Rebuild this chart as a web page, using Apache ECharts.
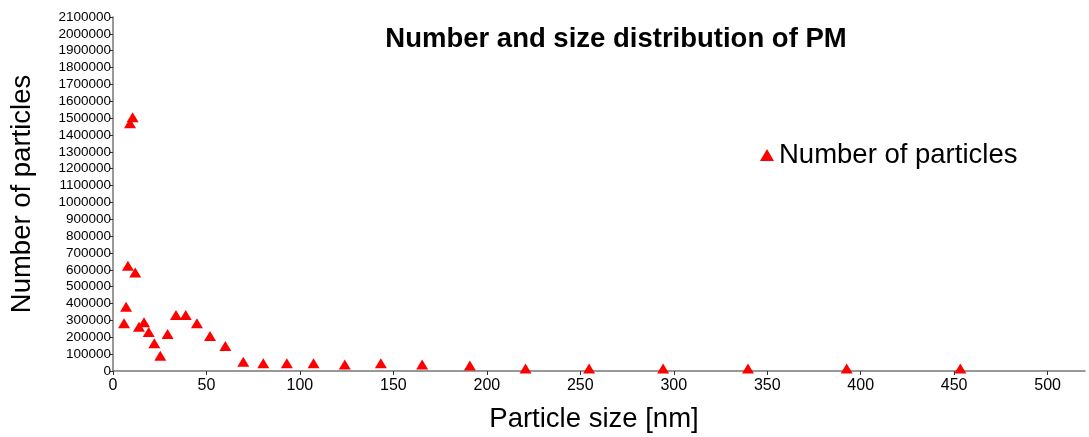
<!DOCTYPE html>
<html>
<head>
<meta charset="utf-8">
<script src="https://cdn.jsdelivr.net/npm/echarts@6/dist/echarts.min.js"></script>
<style>
  html, body { margin: 0; padding: 0; background: #fff; }
  #chart { width: 1089px; height: 437px; }
</style>
</head>
<body>
<div id="chart"></div>
<script>
// particle size [nm] and number of particles
const sizes = [5.9, 7, 8, 9.1, 10.5, 11.9, 13.9, 16.6, 19.1, 22.1, 25.3, 29.2, 33.7, 38.9, 44.9,
  51.9, 60.1, 69.7, 80.4, 93, 107.3, 124, 143.3, 165.4, 190.9, 220.7, 254.7, 294.3, 339.7, 392.5, 453.3];
const counts = [283000, 381000, 625000, 1470000, 1505000, 585000, 263000, 289000, 231000, 164000, 91000,
  219000, 332000, 332000, 283000, 208000, 148000, 55000, 46000, 46000, 46000, 38000, 46000, 38000, 32000,
  15000, 15000, 15000, 15000, 15000, 15000];

const xTicks = [0, 50, 100, 150, 200, 250, 300, 350, 400, 450, 500];

const font = 'Liberation Sans, Arial, sans-serif';

const myChart = echarts.init(document.getElementById('chart'));
const option = {
  animation: false,
  title: {
    text: 'Number and size distribution of PM',
    left: 611,
    top: 20,
    textAlign: 'center',
    textStyle: { fontFamily: font, fontSize: 27.5, fontWeight: 'bold', color: '#000' }
  },
  legend: {
    left: 755,
    top: 136,
    icon: 'triangle',
    itemWidth: 14,
    itemHeight: 12,
    textStyle: { fontFamily: font, fontSize: 27.5, color: '#000' },
    data: ['Number of particles']
  },
  grid: { left: 113, right: 4, top: 17, bottom: 66, outerBoundsMode: 'none', containLabel: false },
  xAxis: {
    type: 'value',
    min: 0,
    max: 520,
    name: 'Particle size [nm]',
    nameLocation: 'center',
    nameGap: 34,
    nameTextStyle: { fontFamily: font, fontSize: 27.5, color: '#000', padding: [0, 10, 0, 0] },
    splitLine: { show: false },
    axisLine: { lineStyle: { color: '#777', width: 1.5 } },
    axisTick: { customValues: xTicks, length: 4, lineStyle: { color: '#333' } },
    axisLabel: { customValues: xTicks, margin: 7, fontFamily: font, fontSize: 16, color: '#000' }
  },
  yAxis: {
    type: 'value',
    min: 0,
    max: 2100000,
    interval: 100000,
    name: 'Number of particles',
    nameLocation: 'center',
    nameGap: 77,
    nameTextStyle: { fontFamily: font, fontSize: 27.5, color: '#000' },
    splitLine: { show: false },
    axisLine: { show: true, lineStyle: { color: '#777', width: 1.5 } },
    axisTick: { show: true, length: 3, lineStyle: { color: '#333' } },
    axisLabel: { margin: 2, fontFamily: font, fontSize: 13.5, color: '#000', formatter: v => String(v) }
  },
  series: [{
    name: 'Number of particles',
    type: 'scatter',
    symbol: 'triangle',
    symbolSize: [12, 10],
    itemStyle: { color: '#ff0000', opacity: 1 },
    data: sizes.map((s, i) => [s, counts[i]])
  }]
};
myChart.setOption(option);
</script>
</body>
</html>
